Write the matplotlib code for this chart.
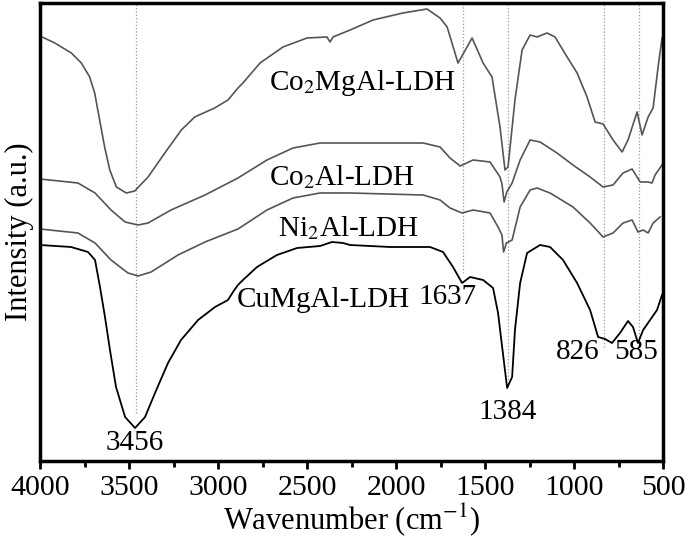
import numpy as np
import matplotlib
matplotlib.use("Agg")
import matplotlib.pyplot as plt

plt.rcParams['font.family'] = ['Liberation Serif', 'DejaVu Serif']
plt.rcParams['mathtext.fontset'] = 'stix'

# traced spectra (wavenumber in cm-1, intensity in arbitrary units)
co2mgal_wn = [4000, 3917, 3824, 3768, 3721, 3693, 3665, 3637, 3608, 3571, 3515, 3468, 3393, 3299,
              3206, 3131, 3019, 2944, 2888, 2860, 2764, 2635, 2500, 2388, 2371, 2354, 2258, 2129,
              1961, 1826, 1753, 1713, 1652, 1601, 1573, 1511, 1461, 1416, 1388, 1371, 1332, 1292,
              1247, 1208, 1152, 1107, 1039, 983, 927, 882, 837, 781, 730, 697, 646, 618, 584, 556,
              528, 506, 500]
co2mgal_int = [425, 418, 408, 398, 384, 368, 341, 314, 291, 274, 268, 270, 284, 308,
               331, 344, 353, 361, 373, 378, 398, 414, 423, 424, 419, 424, 431, 441,
               448, 452, 443, 434, 398, 414, 423, 398, 384, 334, 291, 294, 361, 411,
               426, 424, 428, 424, 404, 388, 364, 339, 337, 321, 309, 321, 349, 326, 344, 353,
               394, 423, 424]

co2al_wn = [4000, 3787, 3691, 3601, 3522, 3449, 3393, 3264, 3073, 2888, 2725, 2579, 2427, 2258,
            2034, 1848, 1753, 1697, 1640, 1567, 1472, 1416, 1405, 1393, 1378, 1348, 1303, 1247,
            1191, 1096, 1006, 910, 837, 781, 725, 674, 646, 629, 584, 562, 545, 506, 500]
co2al_int = [282, 278, 268, 251, 239, 236, 238, 251, 266, 283, 301, 313, 318, 318,
             318, 318, 314, 303, 295, 301, 299, 284, 277, 259, 269, 278, 301, 321,
             319, 308, 296, 284, 274, 276, 288, 292, 284, 279, 279, 278, 286, 296, 298]

ni2al_wn = [4000, 3787, 3691, 3601, 3506, 3449, 3376, 3225, 3073, 2888, 2725, 2579, 2427, 2258,
            1848, 1753, 1697, 1629, 1567, 1472, 1427, 1405, 1396, 1380, 1348, 1303, 1247, 1208,
            1135, 1006, 910, 837, 781, 725, 674, 641, 612, 584, 556, 517]
ni2al_int = [232, 228, 218, 201, 188, 185, 189, 206, 219, 232, 251, 263, 268, 268,
             266, 261, 253, 248, 251, 248, 234, 226, 209, 218, 221, 254, 271, 273,
             268, 254, 238, 224, 228, 238, 241, 229, 231, 228, 238, 244]

cumgal_wn = [4000, 3826, 3730, 3691, 3663, 3635, 3607, 3573, 3522, 3466, 3410, 3354, 3281, 3208,
             3112, 3017, 2944, 2916, 2888, 2860, 2781, 2669, 2556, 2427, 2360, 2298, 2258, 2034,
             1809, 1736, 1680, 1629, 1584, 1511, 1455, 1427, 1404, 1376, 1348, 1332, 1303, 1264,
             1191, 1135, 1062, 983, 910, 865, 826, 787, 742, 697, 669, 641, 612, 573, 534, 506, 500]
cumgal_int = [216, 214, 209, 201, 174, 144, 111, 74, 44, 33, 44, 68, 98, 121,
              141, 154, 161, 169, 176, 181, 194, 206, 213, 215, 219, 218, 216, 214,
              214, 209, 194, 178, 184, 181, 173, 148, 114, 73, 84, 131, 178, 208,
              216, 214, 201, 178, 151, 124, 122, 118, 128, 140, 134, 118, 131, 141, 151, 166, 168]

# dotted marker lines: position and how far down they reach
mark_wn = [3460, 1625, 1373, 830, 637]
mark_low = [48, 188, 78, 114, 124]

peak_labels = ['3456', '1637', '1384', '826', '585']
peak_x = [3466, 1713, 1371, 977, 652]
peak_y = [18, 164, 49, 109, 109]

names = ['Co$_2$MgAl-LDH', 'Co$_2$Al-LDH', 'Ni$_2$Al-LDH', 'CuMgAl-LDH']
name_x = [2191, 2303, 2270, 2410]
name_y = [378, 284, 233, 161]

fig = plt.figure(figsize=(6.85, 5.43), dpi=100)
ax = fig.add_axes([0.0584, 0.151, 0.9096, 0.8435])

ymax = 458
for x, lo in zip(mark_wn, mark_low):
    ax.plot([x, x], [lo, ymax], color='#999999', lw=0.9, ls=':')

ax.plot(co2mgal_wn, co2mgal_int, color='#555555', lw=1.2)
ax.plot(co2al_wn, co2al_int, color='#555555', lw=1.2)
ax.plot(ni2al_wn, ni2al_int, color='#555555', lw=1.2)
ax.plot(cumgal_wn, cumgal_int, color='black', lw=1.3)

for t, x, y in zip(names, name_x, name_y):
    ax.text(x, y, t, fontsize=21, ha='center', va='center')
for t, x, y in zip(peak_labels, peak_x, peak_y):
    ax.text(x, y, t, fontsize=21, ha='center', va='center')

ax.set_xlim(4000, 500)
ax.set_ylim(0, ymax)
ax.set_xticks(np.arange(4000, 499, -500))
ax.set_xticks(np.arange(3750, 500, -500), minor=True)
ax.set_yticks([])
ax.tick_params(axis='x', which='major', direction='out', length=6, width=2, labelsize=21.5, pad=4)
ax.tick_params(axis='x', which='minor', direction='out', length=4, width=2)
for s in ax.spines.values():
    s.set_linewidth(2.5)

ax.set_xlabel('Wavenumber (cm$^{-1}$)', fontsize=22, labelpad=0)
ax.set_ylabel('Intensity (a.u.)', fontsize=22, labelpad=4)

fig.savefig('out.png', dpi=100)
